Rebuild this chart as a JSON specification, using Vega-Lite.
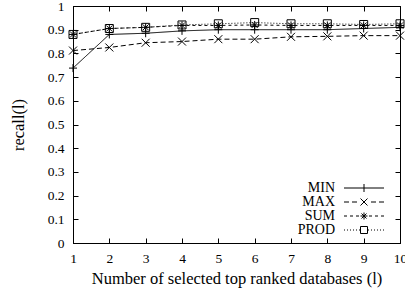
{
  "$schema": "https://vega.github.io/schema/vega-lite/v6.json",
  "width": 327,
  "height": 237,
  "autosize": "none",
  "padding": {"left": 73, "top": 6, "right": 5, "bottom": 48},
  "background": "white",
  "config": {
    "view": {"stroke": "black", "strokeWidth": 1},
    "font": "Liberation Serif",
    "axis": {
      "grid": false,
      "domainColor": "black",
      "tickColor": "black",
      "tickSize": -5,
      "labelColor": "black",
      "labelFont": "Liberation Serif",
      "labelFontSize": 13.5,
      "titleFont": "Liberation Serif",
      "titleFontSize": 16.5,
      "titleFontWeight": "normal",
      "titleColor": "black"
    },
    "legend": {"labelFont": "Liberation Serif", "labelFontSize": 14, "labelColor": "black"}
  },
  "data": {
    "values": [
      {"l": 1, "method": "MIN", "recall": 0.738},
      {"l": 2, "method": "MIN", "recall": 0.88},
      {"l": 3, "method": "MIN", "recall": 0.885},
      {"l": 4, "method": "MIN", "recall": 0.895},
      {"l": 5, "method": "MIN", "recall": 0.9},
      {"l": 6, "method": "MIN", "recall": 0.9},
      {"l": 7, "method": "MIN", "recall": 0.9},
      {"l": 8, "method": "MIN", "recall": 0.9},
      {"l": 9, "method": "MIN", "recall": 0.905},
      {"l": 10, "method": "MIN", "recall": 0.91},
      {"l": 1, "method": "MAX", "recall": 0.812},
      {"l": 2, "method": "MAX", "recall": 0.825},
      {"l": 3, "method": "MAX", "recall": 0.845},
      {"l": 4, "method": "MAX", "recall": 0.85},
      {"l": 5, "method": "MAX", "recall": 0.86},
      {"l": 6, "method": "MAX", "recall": 0.86},
      {"l": 7, "method": "MAX", "recall": 0.87},
      {"l": 8, "method": "MAX", "recall": 0.872},
      {"l": 9, "method": "MAX", "recall": 0.875},
      {"l": 10, "method": "MAX", "recall": 0.875},
      {"l": 1, "method": "SUM", "recall": 0.88},
      {"l": 2, "method": "SUM", "recall": 0.905},
      {"l": 3, "method": "SUM", "recall": 0.91},
      {"l": 4, "method": "SUM", "recall": 0.918},
      {"l": 5, "method": "SUM", "recall": 0.918},
      {"l": 6, "method": "SUM", "recall": 0.92},
      {"l": 7, "method": "SUM", "recall": 0.918},
      {"l": 8, "method": "SUM", "recall": 0.918},
      {"l": 9, "method": "SUM", "recall": 0.918},
      {"l": 10, "method": "SUM", "recall": 0.918},
      {"l": 1, "method": "PROD", "recall": 0.88},
      {"l": 2, "method": "PROD", "recall": 0.905},
      {"l": 3, "method": "PROD", "recall": 0.91},
      {"l": 4, "method": "PROD", "recall": 0.92},
      {"l": 5, "method": "PROD", "recall": 0.925},
      {"l": 6, "method": "PROD", "recall": 0.93},
      {"l": 7, "method": "PROD", "recall": 0.925},
      {"l": 8, "method": "PROD", "recall": 0.925},
      {"l": 9, "method": "PROD", "recall": 0.922},
      {"l": 10, "method": "PROD", "recall": 0.925}
    ]
  },
  "resolve": {"axis": {"x": "independent", "y": "independent"}, "scale": {"shape": "independent"}},
  "layer": [
    {
      "mark": {"type": "line", "color": "black", "strokeWidth": 1},
      "encoding": {
        "x": {
          "field": "l", "type": "quantitative",
          "scale": {"domain": [1, 10], "nice": false},
          "axis": {"values": [1,2,3,4,5,6,7,8,9,10], "format": "d", "labelPadding": 13, "title": "Number of selected top ranked databases (l)", "titlePadding": 6, "labelFlush": false}
        },
        "y": {
          "field": "recall", "type": "quantitative",
          "scale": {"domain": [0, 1], "nice": false, "zero": false},
          "axis": {"values": [0,0.1,0.2,0.3,0.4,0.5,0.6,0.7,0.8,0.9,1], "format": ".1~f", "labelPadding": 14, "title": "recall(l)", "titlePadding": 21}
        },
        "strokeDash": {
          "field": "method", "type": "nominal",
          "scale": {"domain": ["MIN", "MAX", "SUM", "PROD"], "range": [[1, 0], [5, 3], [3, 3], [1, 2]]},
          "legend": null
        }
      }
    },
    {
      "mark": {"type": "point", "filled": false, "color": "black", "strokeWidth": 1, "size": 64, "opacity": 1},
      "encoding": {
        "x": {
          "field": "l", "type": "quantitative",
          "scale": {"domain": [1, 10], "nice": false},
          "axis": {"orient": "top", "values": [1,2,3,4,5,6,7,8,9,10], "labels": false, "title": null}
        },
        "y": {
          "field": "recall", "type": "quantitative",
          "scale": {"domain": [0, 1], "nice": false, "zero": false},
          "axis": {"orient": "right", "values": [0,0.1,0.2,0.3,0.4,0.5,0.6,0.7,0.8,0.9,1], "labels": false, "title": null}
        },
        "shape": {
          "field": "method", "type": "nominal",
          "scale": {"domain": ["MIN", "MAX", "SUM", "PROD"], "range": ["M-1,0H1M0,-1V1", "M-1,-1L1,1M-1,1L1,-1", "M-1,0H1M0,-1V1M-0.75,-0.75L0.75,0.75M-0.75,0.75L0.75,-0.75", "M-1,-1H1V1H-1Z"]},
          "legend": null
        }
      }
    },
    {
      "mark": {"type": "point", "filled": false, "color": "black", "strokeWidth": 1, "size": 4, "opacity": 0},
      "encoding": {
        "x": {"field": "l", "type": "quantitative", "axis": null},
        "y": {"field": "recall", "type": "quantitative", "axis": null},
        "shape": {
          "field": "method", "type": "nominal",
          "scale": {"domain": ["MIN", "MAX", "SUM", "PROD"], "range": [
            "M-20,0H20M0,-4V4",
            "M-20,0H-15M-12,0H-7M7,0H12M15,0H20M-3.5,-3.5L3.5,3.5M-3.5,3.5L3.5,-3.5",
            "M-20,0H-17M-14,0H-11M-8,0H-5M5,0H8M11,0H14M17,0H20M-3.5,0H3.5M0,-3.5V3.5M-2.5,-2.5L2.5,2.5M-2.5,2.5L2.5,-2.5",
            "M-20,0H-19M-17,0H-16M-14,0H-13M-11,0H-10M-8,0H-7M-5,0H-4M4,0H5M7,0H8M10,0H11M13,0H14M16,0H17M19,0H20M-3.5,-3.5H3.5V3.5H-3.5Z"
          ]},
          "legend": {
            "title": null,
            "orient": "none",
            "legendX": 284,
            "legendY": 175,
            "padding": 0,
            "rowPadding": -2.8,
            "labelAlign": "right",
            "labelOffset": -36,
            "labelBaseline": "middle",
            "symbolSize": 4,
            "symbolOpacity": 1,
            "symbolStrokeColor": "black",
            "symbolFillColor": "transparent",
            "symbolStrokeWidth": 1
          }
        }
      }
    }
  ]
}
